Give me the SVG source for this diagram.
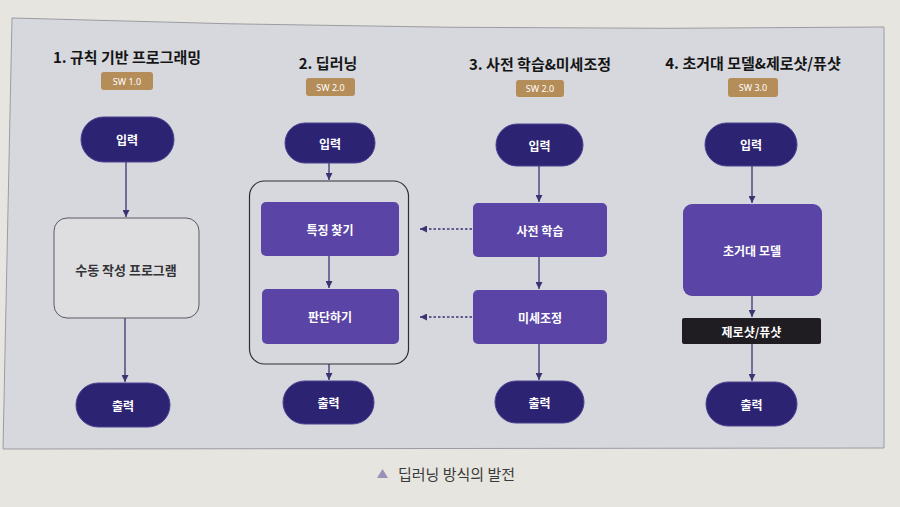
<svg xmlns="http://www.w3.org/2000/svg" width="900" height="507" viewBox="0 0 900 507">
<defs>
<style>
.title{font-family:"Noto Sans CJK KR","Noto Sans",sans-serif;font-size:15px;font-weight:700;fill:#151515;text-anchor:middle;dominant-baseline:central}
.badge{fill:#b58d58}
.btxt{font-family:"Noto Sans","Noto Sans CJK KR",sans-serif;font-size:9px;fill:#ffffff;text-anchor:middle;dominant-baseline:central}
.pill{fill:#2c2373;stroke:#4a4290;stroke-width:1}
.proc{fill:#5a45a6}
.dark{fill:#1f1d22}
.manual{fill:#dedee0;stroke:#5a5a66;stroke-width:1}
.ntxt{font-family:"Noto Sans CJK KR",sans-serif;font-size:12px;font-weight:700;fill:#ffffff;text-anchor:middle;dominant-baseline:central}
.gtxt{font-family:"Noto Sans CJK KR",sans-serif;font-size:13px;font-weight:700;fill:#333338;text-anchor:middle;dominant-baseline:central}
.edge{stroke:#3b3473;stroke-width:1.3;fill:none}
.dash{stroke:#3b3473;stroke-width:1.5;fill:none;stroke-dasharray:2.5 2}
.cap{font-family:"Noto Sans CJK KR",sans-serif;font-size:15px;fill:#3a3a3a;dominant-baseline:central}
</style>
<marker id="ah" viewBox="0 0 10 10" refX="10" refY="5" markerWidth="7" markerHeight="7" markerUnits="userSpaceOnUse" orient="auto">
<path d="M0,0 L10,5 L0,10 Z" fill="#3b3473"/>
</marker>
</defs>
<rect x="0" y="0" width="900" height="507" fill="#e7e5df"/>
<path d="M12,18 Q450,32 884,27 L884,448 L3,449 Z" fill="#d6d8dd" stroke="#9a9ca2" stroke-width="1"/>

<g id="titles">
<text class="title" x="127" y="56">1. 규칙 기반 프로그래밍</text>
<text class="title" x="328" y="62">2. 딥러닝</text>
<text class="title" x="540" y="63">3. 사전 학습&amp;미세조정</text>
<text class="title" x="753" y="62">4. 초거대 모델&amp;제로샷/퓨샷</text>
</g>
<g id="badges">
<rect class="badge" x="101" y="72" width="52" height="18" rx="3"/><text class="btxt" x="127" y="81">SW 1.0</text>
<rect class="badge" x="306" y="78" width="49" height="18" rx="3"/><text class="btxt" x="330.5" y="87">SW 2.0</text>
<rect class="badge" x="516" y="80" width="48" height="17" rx="3"/><text class="btxt" x="540" y="88.5">SW 2.0</text>
<rect class="badge" x="728" y="78" width="50" height="19" rx="3"/><text class="btxt" x="753" y="87.5">SW 3.0</text>
</g>

<g id="connectors">
<line class="edge" x1="126" y1="162" x2="126" y2="217" marker-end="url(#ah)"/>
<line class="edge" x1="125" y1="318" x2="125" y2="382" marker-end="url(#ah)"/>
<line class="edge" x1="329" y1="163" x2="329" y2="180" marker-end="url(#ah)"/>
<line class="edge" x1="329" y1="256" x2="329" y2="288" marker-end="url(#ah)"/>
<line class="edge" x1="329" y1="364" x2="329" y2="380" marker-end="url(#ah)"/>
<line class="edge" x1="539" y1="166" x2="539" y2="202" marker-end="url(#ah)"/>
<line class="edge" x1="539" y1="257" x2="539" y2="289" marker-end="url(#ah)"/>
<line class="edge" x1="539" y1="344" x2="539" y2="380" marker-end="url(#ah)"/>
<line class="edge" x1="752" y1="166" x2="752" y2="203" marker-end="url(#ah)"/>
<line class="edge" x1="752" y1="296" x2="752" y2="317" marker-end="url(#ah)"/>
<line class="edge" x1="752" y1="344" x2="752" y2="381" marker-end="url(#ah)"/>
<line class="dash" x1="472" y1="229" x2="420" y2="229" marker-end="url(#ah)"/>
<line class="dash" x1="472" y1="317" x2="420" y2="317" marker-end="url(#ah)"/>
</g>

<g id="col1">
<g id="in1"><rect class="pill" x="81" y="117" width="93" height="45" rx="22.5"/><text class="ntxt" x="127" y="139.5">입력</text></g>
<g id="manual"><rect class="manual" x="54" y="218" width="145" height="100" rx="13"/><text class="gtxt" x="126" y="269">수동 작성 프로그램</text></g>
<g id="out1"><rect class="pill" x="76" y="383" width="94" height="44" rx="22"/><text class="ntxt" x="123" y="405">출력</text></g>
</g>

<g id="col2">
<g id="in2"><rect class="pill" x="285" y="123" width="90" height="40" rx="20"/><text class="ntxt" x="330" y="143">입력</text></g>
<g id="container"><rect x="249.5" y="181" width="159" height="183" rx="15" fill="none" stroke="#2e2c3a" stroke-width="1.2"/></g>
<g id="feature"><rect class="proc" x="261" y="202" width="138" height="54" rx="5"/><text class="ntxt" x="330" y="229">특징 찾기</text></g>
<g id="judge"><rect class="proc" x="262" y="289" width="137" height="55" rx="5"/><text class="ntxt" x="330" y="316.5">판단하기</text></g>
<g id="out2"><rect class="pill" x="283" y="381" width="91" height="43" rx="21.5"/><text class="ntxt" x="328.5" y="402.5">출력</text></g>
</g>

<g id="col3">
<g id="in3"><rect class="pill" x="496" y="124" width="87" height="42" rx="21"/><text class="ntxt" x="539.5" y="145">입력</text></g>
<g id="pretrain"><rect class="proc" x="473" y="203" width="134" height="54" rx="5"/><text class="ntxt" x="540" y="230">사전 학습</text></g>
<g id="finetune"><rect class="proc" x="473" y="290" width="134" height="54" rx="5"/><text class="ntxt" x="540" y="317">미세조정</text></g>
<g id="out3"><rect class="pill" x="495" y="381" width="89" height="42" rx="21"/><text class="ntxt" x="539.5" y="402">출력</text></g>
</g>

<g id="col4">
<g id="in4"><rect class="pill" x="705" y="123" width="92" height="43" rx="21.5"/><text class="ntxt" x="751" y="144.5">입력</text></g>
<g id="llm"><rect class="proc" x="683" y="204" width="139" height="92" rx="9"/><text class="ntxt" x="752" y="250">초거대 모델</text></g>
<g id="zeroshot"><rect class="dark" x="682" y="318" width="139" height="26" rx="2"/><text class="ntxt" x="751.5" y="331">제로샷/퓨샷</text></g>
<g id="out4"><rect class="pill" x="706" y="382" width="91" height="44" rx="22"/><text class="ntxt" x="751.5" y="404">출력</text></g>
</g>

<g id="caption">
<path d="M377,478 L382.5,469 L388,478 Z" fill="#9a90b8"/>
<text class="cap" x="398" y="473">딥러닝 방식의 발전</text>
</g>
</svg>
